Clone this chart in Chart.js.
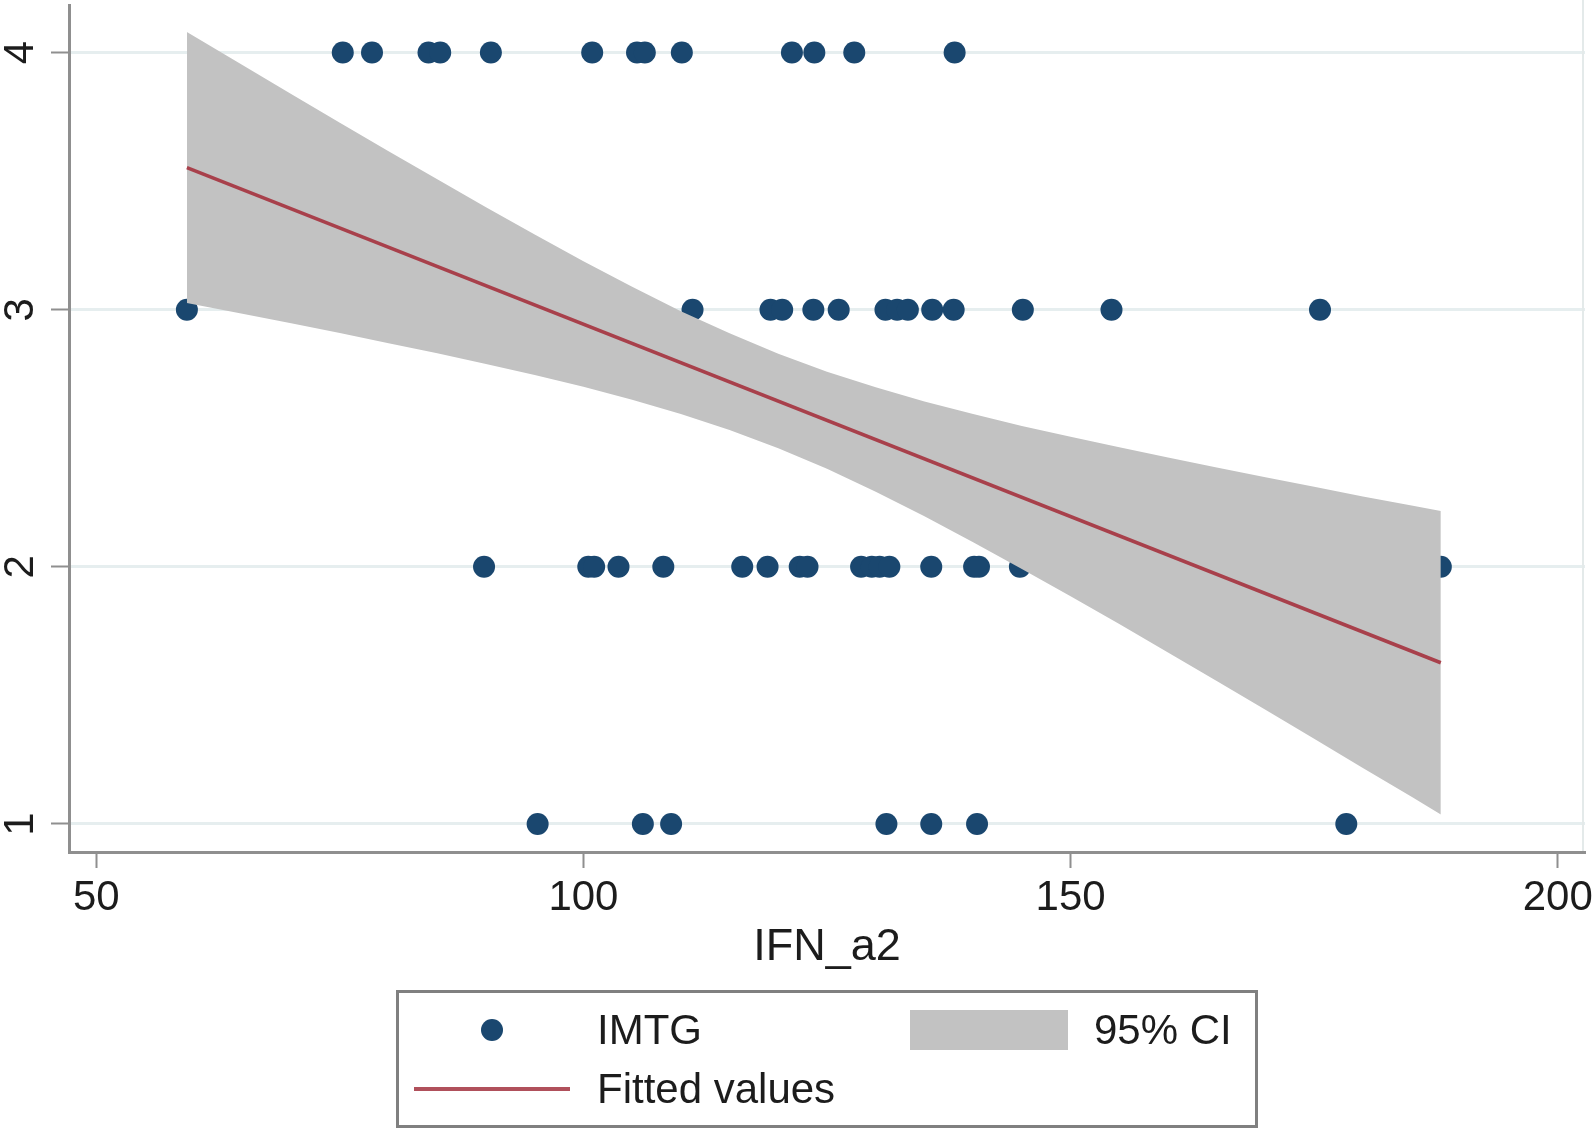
<!DOCTYPE html>
<html>
<head>
<meta charset="utf-8">
<script src="https://cdn.jsdelivr.net/npm/chart.js@4.4.1/dist/chart.umd.min.js"></script>
<style>
html, body { margin: 0; padding: 0; background: #ffffff; }
#wrap { position: relative; width: 1595px; height: 1133px; overflow: hidden;
        font-family: "Liberation Sans", Arial, Helvetica, sans-serif; color: #1c1c1c; }
#c { position: absolute; left: 0; top: 0; }
.abs { position: absolute; }
.txt { position: absolute; font-size: 42px; line-height: 42px; white-space: nowrap; }
</style>
</head>
<body>
<div id="wrap">
  <canvas id="c" width="1595" height="1133"></canvas>
  <div class="abs" style="left:1582px;top:0px;width:2px;height:851px;background:#e4eaea;"></div>
  <div class="abs" style="left:396px;top:990px;width:862px;height:138px;border:3px solid #808080;box-sizing:border-box;"></div>
  <div class="abs" style="left:481px;top:1019px;width:22px;height:22px;border-radius:50%;background:#1a476f;"></div>
  <div class="txt" style="left:597px;top:1009px;">IMTG</div>
  <div class="abs" style="left:910px;top:1010px;width:158px;height:40px;background:#c2c2c2;"></div>
  <div class="txt" style="left:1094px;top:1009px;">95% CI</div>
  <div class="abs" style="left:414px;top:1087px;width:156px;height:4px;background:#b0505b;"></div>
  <div class="txt" style="left:597px;top:1068px;">Fitted values</div>
</div>
<script>
// ---- data ----
const imtgLevels = [4, 3, 2, 1];
const ifnAtLevel4 = [75.3, 78.3, 84.1, 85.3, 90.5, 100.9, 105.5, 106.3, 110.1, 121.4, 123.7, 127.8, 138.1];
const ifnAtLevel3 = [59.3, 111.2, 119.2, 120.4, 123.6, 126.2, 131.0, 132.2, 133.3, 135.8, 138.0, 145.1, 154.2, 175.6];
const ifnAtLevel2 = [89.8, 100.5, 101.1, 103.6, 108.2, 116.3, 118.9, 122.2, 123.0, 128.5, 129.6, 130.4, 131.4, 135.7, 140.1, 140.6, 144.8, 188.0];
const ifnAtLevel1 = [95.3, 106.1, 109.0, 131.1, 135.7, 140.4, 178.3];

const fitX = [59.3, 188.0];
const fitY = [3.553, 1.627];

const ciX     = [59.3, 65, 70, 75, 80, 85, 90, 95, 100, 105, 110, 115, 120, 125, 130, 135, 140, 145, 150, 155, 160, 165, 170, 175, 180, 185, 188];
const ciUpper = [4.080, 3.952, 3.839, 3.727, 3.616, 3.507, 3.398, 3.292, 3.188, 3.089, 2.994, 2.908, 2.829, 2.759, 2.698, 2.643, 2.594, 2.548, 2.506, 2.465, 2.425, 2.386, 2.348, 2.311, 2.274, 2.239, 2.217];
const ciLower = [3.026, 2.984, 2.947, 2.909, 2.870, 2.831, 2.789, 2.746, 2.700, 2.650, 2.594, 2.532, 2.461, 2.381, 2.292, 2.197, 2.096, 1.992, 1.886, 1.778, 1.667, 1.556, 1.444, 1.331, 1.218, 1.106, 1.037];

const xTickValues = [50, 100, 150, 200];
const yTickValues = [1, 2, 3, 4];
const xTitle = 'IFN_a2';

// ---- build ----
const FONT = '"Liberation Sans", Arial, Helvetica, sans-serif';
const NAVY = '#1a476f';
const FIT = '#a8404b';
const AXIS = '#8f8f8f';
const TEXT = '#1c1c1c';

const levelLists = [ifnAtLevel4, ifnAtLevel3, ifnAtLevel2, ifnAtLevel1];
const imtgPoints = [];
levelLists.forEach((xs, i) => xs.forEach(x => imtgPoints.push({ x: x, y: imtgLevels[i] })));
const upperPts = ciX.map((x, i) => ({ x: x, y: ciUpper[i] }));
const lowerPts = ciX.map((x, i) => ({ x: x, y: ciLower[i] }));
const fitPts = fitX.map((x, i) => ({ x: x, y: fitY[i] }));

new Chart(document.getElementById('c').getContext('2d'), {
  type: 'scatter',
  data: {
    datasets: [
      { label: 'IMTG', data: imtgPoints, backgroundColor: NAVY, borderWidth: 0,
        pointRadius: 11, pointHoverRadius: 11, order: 3 },
      { type: 'line', label: '95% CI', data: upperPts, borderWidth: 0, borderColor: 'rgba(0,0,0,0)',
        pointRadius: 0, fill: '+1', backgroundColor: '#c2c2c2', tension: 0, order: 2 },
      { type: 'line', label: '95% CI lower', data: lowerPts, borderWidth: 0, borderColor: 'rgba(0,0,0,0)',
        pointRadius: 0, fill: false, tension: 0, order: 2 },
      { type: 'line', label: 'Fitted values', data: fitPts, borderColor: FIT, borderWidth: 3.5,
        pointRadius: 0, fill: false, tension: 0, order: 1 }
    ]
  },
  options: {
    responsive: false,
    animation: false,
    events: [],
    layout: { autoPadding: false, padding: { left: 0, top: 5, right: 10, bottom: 0 } },
    plugins: {
      legend: { display: false },
      tooltip: { enabled: false },
      filler: { drawTime: 'beforeDatasetDraw', propagate: false }
    },
    scales: {
      x: {
        type: 'linear', min: 47.2, max: 202.8,
        afterBuildTicks: s => { s.ticks = xTickValues.map(v => ({ value: v })); },
        ticks: { font: { family: FONT, size: 42, lineHeight: 1 }, color: TEXT, padding: 9,
                 minRotation: 0, maxRotation: 0, autoSkip: false },
        grid: { drawOnChartArea: false, drawTicks: true, tickLength: 16, tickColor: AXIS, tickWidth: 2 },
        border: { display: true, color: AXIS, width: 3 },
        title: { display: true, text: xTitle, color: TEXT,
                 font: { family: FONT, size: 45, lineHeight: 1 }, padding: { top: 0, bottom: 163 } },
        afterFit: s => { s.height = 281; s.paddingLeft = 0; s.paddingRight = 0; }
      },
      y: {
        type: 'linear', min: 0.891, max: 4.185,
        afterBuildTicks: s => { s.ticks = yTickValues.map(v => ({ value: v })); },
        ticks: { font: { family: FONT, size: 42, lineHeight: 1 }, color: TEXT, padding: 18,
                 minRotation: 90, maxRotation: 90, crossAlign: 'center', autoSkip: false },
        grid: { color: '#e6eeef', lineWidth: 3, drawTicks: true, tickLength: 18, tickColor: AXIS, tickWidth: 2 },
        border: { display: true, color: AXIS, width: 3 },
        afterFit: s => { s.width = 69; s.paddingTop = 0; s.paddingBottom = 0; }
      }
    }
  }
});
</script>
</body>
</html>
